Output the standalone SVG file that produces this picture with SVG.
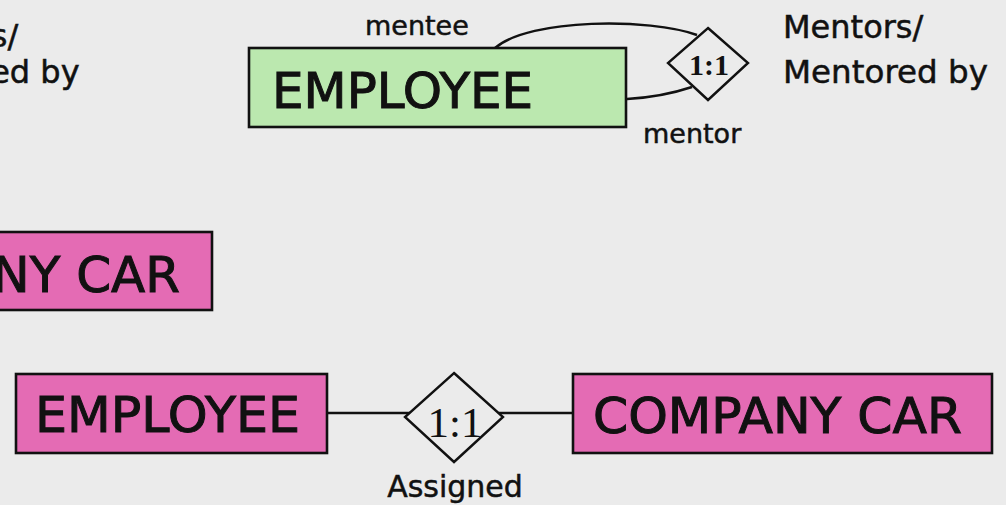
<svg xmlns="http://www.w3.org/2000/svg" width="1006" height="505" viewBox="0 0 1006 505">
<style>
.bg{fill:#ebebeb}
.ent{stroke:#111;stroke-width:2.6}
.green{fill:#bbe8af}
.pink{fill:#e46bb4}
.rel{fill:#ebebeb;stroke:#111;stroke-width:2.4}
.ln{fill:none;stroke:#111;stroke-width:2.4}
.big{font-family:"DejaVu Sans",Verdana,sans-serif;font-size:50px;fill:#111;stroke:#111;stroke-width:1}
.lbl{font-family:"DejaVu Sans",Verdana,sans-serif;font-size:27px;fill:#111;stroke:#111;stroke-width:0.5}
.cap{font-family:"DejaVu Sans",Verdana,sans-serif;font-size:32px;fill:#111;stroke:#111;stroke-width:0.5}
.card{font-family:"Liberation Serif","Times New Roman",serif;fill:#111;text-anchor:middle}
</style>
<rect class="bg" x="0" y="0" width="1006" height="505"/>

<g id="connectors">
  <path class="ln" d="M495,48 C530,18 650,18 697,35"/>
  <path class="ln" d="M627,99 Q662,97 692,87"/>
  <line class="ln" x1="327" y1="413" x2="410" y2="413"/>
  <line class="ln" x1="499" y1="413" x2="573" y2="413"/>
</g>

<g id="label-left-mentors">
  <text class="cap" x="-122" y="47">Mentors/</text>
  <text class="cap" x="-122" y="83">Mentored by</text>
</g>

<g id="employee-top">
  <rect class="ent green" x="249" y="48" width="377" height="79"/>
  <text class="big" x="272" y="108" textLength="261" lengthAdjust="spacingAndGlyphs">EMPLOYEE</text>
</g>

<g id="rel-mentors">
  <polygon class="rel" points="708,28 748,63 708,100 668,63"/>
  <text class="card" x="709" y="75" font-size="30" font-weight="bold">1:1</text>
</g>

<g id="role-labels">
  <text class="lbl" x="365" y="35">mentee</text>
  <text class="lbl" x="643" y="143">mentor</text>
</g>

<g id="label-right-mentors">
  <text class="cap" x="783" y="38">Mentors/</text>
  <text class="cap" x="783" y="83" textLength="205" lengthAdjust="spacingAndGlyphs">Mentored by</text>
</g>

<g id="company-car-mid">
  <rect class="ent pink" x="-207" y="232" width="419" height="78"/>
  <text class="big" x="180" y="292" text-anchor="end">COMPANY CAR</text>
</g>

<g id="employee-bottom">
  <rect class="ent pink" x="16" y="374" width="311" height="79"/>
  <text class="big" x="35" y="432" textLength="265" lengthAdjust="spacingAndGlyphs">EMPLOYEE</text>
</g>

<g id="rel-assigned">
  <polygon class="rel" points="454,373 503,417 454,462 405,417"/>
  <text class="card" x="455" y="437" font-size="43">1:1</text>
  <text class="cap" x="455" y="497" text-anchor="middle" style="font-size:30px">Assigned</text>
</g>

<g id="company-car-bottom">
  <rect class="ent pink" x="573" y="374" width="419" height="79"/>
  <text class="big" x="593" y="433" textLength="369" lengthAdjust="spacingAndGlyphs">COMPANY CAR</text>
</g>
</svg>
